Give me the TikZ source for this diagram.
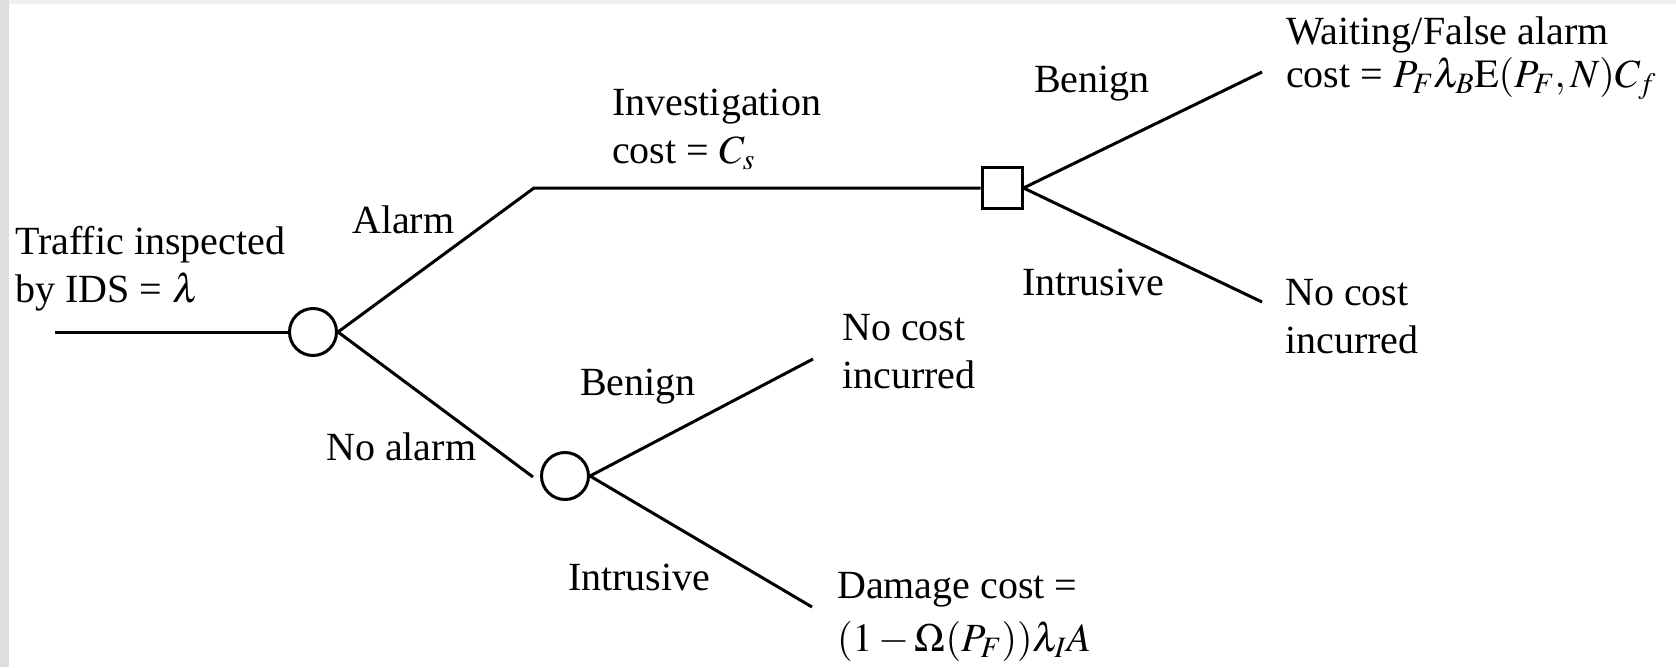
\documentclass[tikz,border=0pt]{standalone}
\usepackage{mathptmx}
\usepackage{fontspec}
\setmainfont{Liberation Serif}
\usetikzlibrary{positioning}
\tikzstyle{chance} = [circle, draw=black, line width=3pt, minimum size=47pt, inner sep=0pt]
\tikzstyle{decision} = [rectangle, draw=black, line width=3pt, minimum width=40pt, minimum height=41pt, inner sep=0pt]
\tikzstyle{branch} = [line width=3pt]
\tikzstyle{txt} = [inner sep=0pt, anchor=base west, align=left, font=\fontsize{40}{48}\selectfont]
\begin{document}
\begin{tikzpicture}[x=1pt, y=-1pt]
    \useasboundingbox (0,0) rectangle (1676,667);
    \fill[black!13] (0,0) rectangle (9,667);
    \fill[black!6] (9,0) rectangle (1676,4);

    \node[chance] (root) at (313,332) {};
    \node[chance] (noalarm) at (565,476) {};
    \node[decision] (invest) at (1002,188) {};

    \coordinate (start) at (55,332);
    \coordinate (bend) at (534,188);
    \coordinate (naend) at (533,477);
    \coordinate (fa) at (1262,72);
    \coordinate (nc1) at (1262,302);
    \coordinate (nc2) at (813,359);
    \coordinate (dmg) at (812,607);

    \draw[branch] (start) -- (root);
    \draw[branch] (root.east) -- (bend) -- (invest.west);
    \draw[branch] (root.east) -- (naend);
    \draw[branch] (invest.east) -- (fa);
    \draw[branch] (invest.east) -- (nc1);
    \draw[branch] (noalarm.east) -- (nc2);
    \draw[branch] (noalarm.east) -- (dmg);

    % two-line labels: base anchor sits on the last line
    \node[txt] (traffic) at (15,302) {Traffic inspected\\by IDS = $\lambda$};
    \node[txt] (alarm) at (352,233) {Alarm};
    \node[txt] (noal) at (326,460) {No alarm};
    \node[txt] (cs) at (612,163) {Investigation\\cost = $C_s$};
    \node[txt] (ben1) at (1034,92) {Benign};
    \node[txt] (int1) at (1022,295) {Intrusive};
    \node[txt] (wait) at (1286,87) {Waiting/False alarm\\[-5pt]cost = $P_F\lambda_B\mathrm{E}(P_F,N)C_f$};
    \node[txt] (none1) at (1285,353) {No cost\\incurred};
    \node[txt] (ben2) at (580,395) {Benign};
    \node[txt] (int2) at (568,590) {Intrusive};
    \node[txt] (none2) at (842,388) {No cost\\incurred};
    \node[txt] (damage) at (837,651) {Damage cost =\\[5pt]$(1-\Omega(P_F))\lambda_I A$};
\end{tikzpicture}
\end{document}
